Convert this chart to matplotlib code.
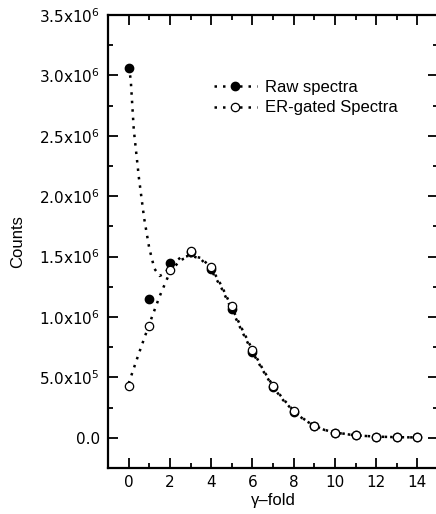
import matplotlib
matplotlib.use("Agg")
import matplotlib.pyplot as plt
from matplotlib.ticker import MultipleLocator, FuncFormatter
import math

plt.rcParams['font.family'] = ['Liberation Sans', 'DejaVu Sans']

# measured points
gamma_fold = [0, 1, 2, 3, 4, 5, 6, 7, 8, 9, 10, 11, 12, 13, 14]
raw_counts = [3.06e6, 1.148e6, 1.445e6, 1.54e6, 1.395e6, 1.065e6, 0.713e6, 0.42e6,
              0.217e6, 0.099e6, 0.041e6, 0.02e6, 0.01e6, 0.005e6, 0.003e6]
gated_counts = [0.432e6, 0.927e6, 1.39e6, 1.545e6, 1.41e6, 1.09e6, 0.73e6, 0.425e6,
                0.22e6, 0.099e6, 0.041e6, 0.02e6, 0.01e6, 0.005e6, 0.003e6]

# fitted curves
raw_fit_x = [0, 0.1, 0.25, 0.5, 0.75, 1.0, 1.25, 1.5, 1.75, 2.0, 2.5, 3.0, 3.5, 4.0, 4.5,
             5.0, 5.5, 6.0, 6.5, 7.0, 7.5, 8.0, 8.5, 9.0, 9.5, 10, 11, 12, 13, 14]
raw_fit_y = [3.07e6, 2.97e6, 2.55e6, 2.15e6, 1.82e6, 1.57e6, 1.40e6, 1.34e6, 1.36e6, 1.42e6,
             1.49e6, 1.51e6, 1.48e6, 1.39e6, 1.24e6, 1.06e6, 0.88e6, 0.71e6, 0.56e6, 0.42e6,
             0.31e6, 0.22e6, 0.15e6, 0.10e6, 0.065e6, 0.043e6, 0.02e6, 0.01e6, 0.005e6, 0.003e6]
gated_fit_x = [0, 0.5, 1.0, 1.5, 2.0, 2.5, 3.0, 3.5, 4.0, 4.5, 5.0, 5.5, 6.0, 6.5, 7.0,
               7.5, 8.0, 8.5, 9.0, 9.5, 10, 11, 12, 13, 14]
gated_fit_y = [0.45e6, 0.70e6, 0.94e6, 1.17e6, 1.37e6, 1.47e6, 1.505e6, 1.49e6, 1.41e6,
               1.26e6, 1.08e6, 0.90e6, 0.73e6, 0.57e6, 0.43e6, 0.32e6, 0.225e6, 0.155e6,
               0.10e6, 0.065e6, 0.045e6, 0.02e6, 0.01e6, 0.005e6, 0.003e6]

fig = plt.figure(figsize=(4.36, 5.14), dpi=100)
ax = fig.add_axes([108/436, 46/514, 330/436, 453/514])

ls = (0, (1.0, 2.4))
ax.plot(raw_fit_x, raw_fit_y, color='black', linestyle=ls, linewidth=1.8)
ax.plot(gated_fit_x, gated_fit_y, color='black', linestyle=ls, linewidth=1.8)
ax.plot(gamma_fold, raw_counts, linestyle='none', marker='o', markersize=6,
        markerfacecolor='black', markeredgecolor='black')
ax.plot(gamma_fold, gated_counts, linestyle='none', marker='o', markersize=6,
        markerfacecolor='white', markeredgecolor='black', markeredgewidth=0.9)

# legend proxies
ax.plot([], [], color='black', linestyle=ls, linewidth=1.8, marker='o', markersize=6,
        markerfacecolor='black', markeredgecolor='black', label='Raw spectra')
ax.plot([], [], color='black', linestyle=ls, linewidth=1.8, marker='o', markersize=6,
        markerfacecolor='white', markeredgecolor='black', markeredgewidth=0.9,
        label='ER-gated Spectra')
h, l = ax.get_legend_handles_labels()
ax.legend(h, l, loc='upper left', bbox_to_anchor=(0.285, 0.882), frameon=False,
          fontsize=12, handlelength=2.6, handletextpad=0.5, labelspacing=0.32,
          borderpad=0.2)

ax.set_xlim(-1, 15)
ax.set_ylim(-0.25e6, 3.5e6)
ax.xaxis.set_major_locator(MultipleLocator(2))
ax.xaxis.set_minor_locator(MultipleLocator(1))
ax.yaxis.set_major_locator(MultipleLocator(0.5e6))
ax.yaxis.set_minor_locator(MultipleLocator(0.25e6))


def yfmt(v, pos):
    if abs(v) < 1:
        return '0.0'
    e = int(math.floor(math.log10(abs(v)) + 1e-9))
    m = v / 10 ** e
    return r'%.1fx10$^{%d}$' % (m, e)


ax.yaxis.set_major_formatter(FuncFormatter(yfmt))
ax.tick_params(which='both', direction='in', top=True, right=True, width=1.3)
ax.tick_params(which='major', length=7)
ax.tick_params(which='minor', length=3.5)
ax.tick_params(axis='x', pad=5)
ax.tick_params(axis='y', pad=6)
for lab in ax.get_xticklabels() + ax.get_yticklabels():
    lab.set_family(['DejaVu Sans'])
    lab.set_fontsize(11)
for s in ax.spines.values():
    s.set_linewidth(1.6)

ax.set_ylabel('Counts', fontsize=12, labelpad=10)
ax.set_xlabel('γ–fold', fontsize=12, labelpad=2)

fig.savefig('out.png', dpi=100)
